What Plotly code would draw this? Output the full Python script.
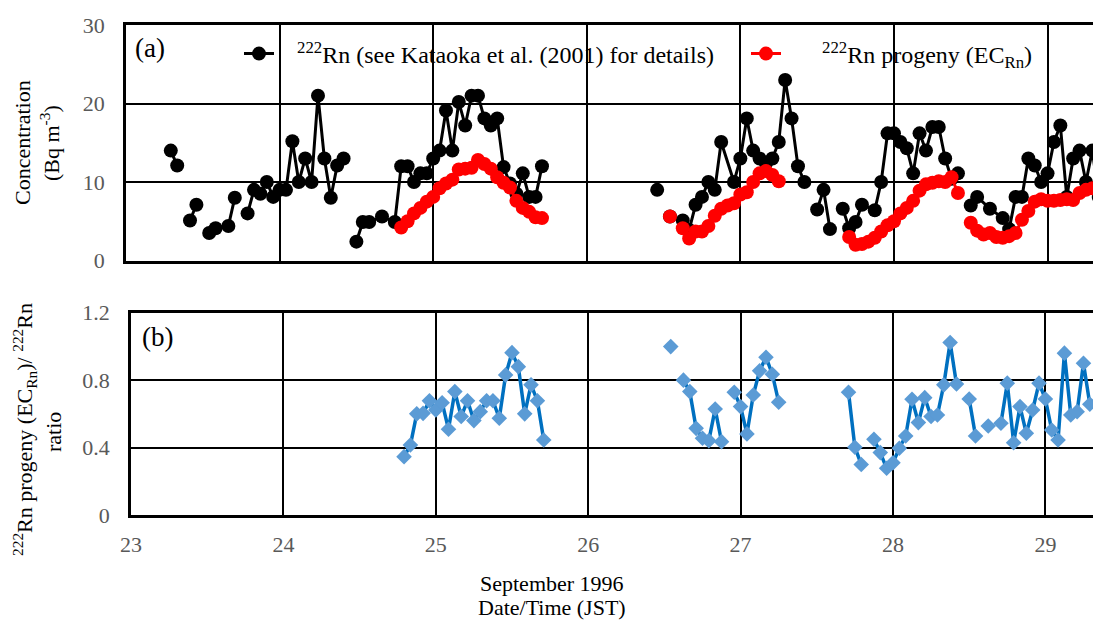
import plotly.graph_objects as go

# ---------------- data (hours after 23 Sep 1996 00:00 JST) ----------------
rn_hours = [7, 8, None,
            10, 11, None,
            13, 14, None,
            16, 17, None,
            19, 20, 21, 22, 23, 24, 25, 26, 27, 28, 29, 30, 31, 32, 33, 34, None,
            36, 37, 38, 40, 42, 43, 44, 45, 46, 47, 48, 49, 50, 51, 52, 53, 54,
            55, 56, 57, 58, 59, 60, 61, 62, 63, 64, 65, None,
            83, None,
            85, None,
            87, 88, 89, 90, 91, 92, 93, 95, 96, 97, 98, 99, 100, 101, 102, 103,
            104, 105, 106, None,
            108, 109, 110, None,
            112, 113, 114, 115, 117, 118, 119, 120, 121, 122, 123, 124, 125, 126,
            127, 128, 129, 130, None,
            132, 133, 135, 137, 138, 139, 140, 141, 142, 143, 144, 145, 146, 147,
            148, 149, 150, 151, 152]
rn_conc = [14.0, 12.1, None,
           5.1, 7.1, None,
           3.5, 4.1, None,
           4.4, 8.0, None,
           6.0, 9.0, 8.5, 10.0, 8.1, 9.0, 9.0, 15.2, 10.0, 13.0, 10.0, 21.0, 13.0, 8.0, 12.1, 13.0, None,
           2.4, 4.9, 4.9, 5.6, 4.9, 12.0, 12.0, 10.0, 11.1, 11.1, 13.0, 14.0, 19.1, 14.0, 20.2, 17.2, 21.0,
           21.0, 18.1, 17.2, 18.1, 11.9, 9.8, 8.5, 11.1, 8.1, 8.1, 12.0, None,
           9.0, None,
           5.6, None,
           5.1, 3.9, 7.1, 8.1, 10.0, 9.0, 15.1, 10.0, 13.0, 18.1, 14.0, 13.0, 12.4, 13.0, 15.1, 23.0,
           18.1, 12.0, 10.0, None,
           6.5, 9.0, 4.0, None,
           6.6, 4.1, 4.9, 7.1, 6.4, 10.0, 16.2, 16.2, 15.1, 14.3, 11.1, 16.2, 14.0, 17.0,
           17.0, 13.0, 10.4, 11.1, None,
           7.0, 8.1, 6.6, 5.4, 4.0, 8.1, 8.1, 13.0, 12.1, 10.0, 11.1, 15.1, 17.2, 8.1,
           13.0, 14.0, 10.0, 14.0, 8.1]

prog_hours = (list(range(43, 66)) + [None] + [85] + [None] + list(range(87, 103)) + [None]
              + list(range(113, 131)) + [None] + list(range(132, 153)))
prog_conc = [4.2, 5.0, 6.0, 6.7, 7.5, 8.1, 9.2, 9.8, 10.3, 11.6, 11.7, 11.8, 12.8, 12.3, 11.7,
             10.6, 9.9, 9.3, 7.6, 6.7, 6.2, 5.5, 5.4, None,
             5.6, None,
             4.1, 2.8, 3.7, 3.7, 4.4, 5.7, 6.6, 7.0, 7.3, 8.4, 8.7, 10.0, 11.1, 11.4, 10.9, 10.1, None,
             3.0, 2.0, 2.1, 2.4, 2.9, 3.7, 4.5, 5.0, 6.0, 6.7, 7.6, 8.9, 9.7, 9.9, 10.1, 10.0, 10.6, 8.6, None,
             4.8, 3.8, 3.3, 3.5, 3.0, 2.9, 3.1, 3.5, 5.2, 6.3, 7.5, 7.8, 7.6, 7.6, 7.7, 7.8, 7.7,
             8.6, 9.0, 9.2, 9.3]

ratio_hours = (list(range(43, 66)) + [None, 85, None] + list(range(87, 94)) + [None]
               + list(range(95, 103)) + [None] + [113, 114, 115] + [None] + list(range(117, 131))
               + [None, 132, 133, None, 135, None] + list(range(137, 152)))
ratio_vals = [0.346, 0.415, 0.60, 0.603, 0.677, 0.623, 0.666, 0.509, 0.732, 0.584, 0.678, 0.560,
              0.613, 0.678, 0.678, 0.574, 0.831, 0.963, 0.880, 0.60, 0.772, 0.678, 0.445,
              None, 0.999, None,
              0.80, 0.732, 0.514, 0.455, 0.441, 0.629, 0.435, None,
              0.728, 0.643, 0.481, 0.712, 0.855, 0.936, 0.835, 0.669, None,
              0.728, 0.402, 0.30, None,
              0.449, 0.37, 0.277, 0.31, 0.396, 0.469, 0.687, 0.548, 0.696, 0.584, 0.593, 0.772,
              1.023, 0.777,
              None, 0.688, 0.469, None, 0.528, None,
              0.544, 0.782, 0.429, 0.643, 0.485, 0.623, 0.782, 0.688, 0.504, 0.445, 0.96, 0.593,
              0.613, 0.90, 0.657]

day_ticks = [23, 24, 25, 26, 27, 28, 29]
conc_ticks = [0, 10, 20, 30]
ratio_ticks = [0, 0.4, 0.8, 1.2]
ratio_tick_text = ["0", "0.4", "0.8", "1.2"]

assert len(rn_hours) == len(rn_conc)
assert len(prog_hours) == len(prog_conc)
assert len(ratio_hours) == len(ratio_vals)


def to_day(hours):
    return [None if h is None else 23 + h / 24.0 for h in hours]


SERIF = "Liberation Serif, Times New Roman, serif"
GREY = "#595959"
NB = "\u00a0"

fig = go.Figure()
fig.add_trace(go.Scatter(
    x=to_day(rn_hours), y=rn_conc, mode="lines+markers", xaxis="x", yaxis="y",
    name=NB * 3 + "<sup>222</sup>Rn (see Kataoka et al. (2001) for details)",
    line=dict(color="black", width=3), marker=dict(color="black", size=14),
    legend="legend", connectgaps=False))
fig.add_trace(go.Scatter(
    x=to_day(prog_hours), y=prog_conc, mode="lines+markers", xaxis="x", yaxis="y",
    name=NB * 6 + "<sup>222</sup>Rn progeny (EC<sub>Rn</sub>)",
    line=dict(color="#FF0000", width=3), marker=dict(color="#FF0000", size=14),
    legend="legend2", connectgaps=False))
fig.add_trace(go.Scatter(
    x=to_day(ratio_hours), y=ratio_vals, mode="lines+markers", xaxis="x2", yaxis="y2",
    line=dict(color="#0070C0", width=3.5),
    marker=dict(color="#5B9BD5", symbol="diamond", size=12),
    showlegend=False, connectgaps=False))

# page body has an 8px margin: the figure is sized to end exactly at the window edge
OFF = 8
W, H = 1101 - OFF, 623 - OFF
L, R, T, B = 126 - OFF, 0, 25 - OFF, 108
PW, PH = W - L - R, H - T - B


def px(xp):  # window pixel -> paper x
    return (xp - OFF - L) / PW


def py(yp):  # window pixel -> paper y
    return (H - B - (yp - OFF)) / PH


axis_common = dict(showgrid=True, gridcolor="black", gridwidth=1.5, zeroline=False,
                   showline=True, linecolor="black", linewidth=2.5, ticks="",
                   tickfont=dict(family=SERIF, size=22, color=GREY))

fig.update_layout(
    width=W, height=H, margin=dict(l=L, r=R, t=T, b=B),
    paper_bgcolor="white", plot_bgcolor="white",
    font=dict(family=SERIF, color="black"),
    xaxis=dict(domain=[0, 1], range=[23, 29.348], tickvals=day_ticks, showticklabels=False,
               anchor="y", mirror=True, **axis_common),
    yaxis=dict(domain=[py(260.5), 1], range=[0, 30], tickvals=conc_ticks, anchor="x",
               ticklabelstandoff=14, **axis_common),
    xaxis2=dict(domain=[px(131), 1], range=[23, 29.365], tickvals=day_ticks, anchor="y2",
                mirror=True, ticklabelstandoff=8, **axis_common),
    yaxis2=dict(domain=[0, py(312.7)], range=[0, 1.2], tickvals=ratio_ticks,
                ticktext=ratio_tick_text, anchor="x2", ticklabelstandoff=14, **axis_common),
    legend=dict(x=px(239), y=py(54), xanchor="left", yanchor="middle",
                bgcolor="rgba(0,0,0,0)", font=dict(family=SERIF, size=24, color="black")),
    legend2=dict(x=px(746), y=py(54), xanchor="left", yanchor="middle",
                 bgcolor="rgba(0,0,0,0)", font=dict(family=SERIF, size=24, color="black")),
)

ann = [
    dict(text="(a)", x=px(133), y=py(48), xanchor="left", yanchor="middle", size=27, angle=0),
    dict(text="(b)", x=px(140), y=py(337), xanchor="left", yanchor="middle", size=27, angle=0),
    dict(text="Concentration", x=px(22), y=py(143), xanchor="center", yanchor="middle", size=22, angle=-90),
    dict(text="(Bq m<sup>-3</sup>)", x=px(50), y=py(143), xanchor="center", yanchor="middle", size=22, angle=-90),
    dict(text="<sup>222</sup>Rn progeny (EC<sub>Rn</sub>)/ <sup>222</sup>Rn", x=px(24), y=py(430),
         xanchor="center", yanchor="middle", size=22, angle=-90),
    dict(text="ratio", x=px(53), y=py(432), xanchor="center", yanchor="middle", size=22, angle=-90),
    dict(text="September 1996", x=px(552), y=py(583), xanchor="center", yanchor="middle", size=22, angle=0),
    dict(text="Date/Time (JST)", x=px(552), y=py(607), xanchor="center", yanchor="middle", size=22, angle=0),
]
for a in ann:
    fig.add_annotation(text=a["text"], xref="paper", yref="paper", x=a["x"], y=a["y"],
                       xanchor=a["xanchor"], yanchor=a["yanchor"], textangle=a["angle"],
                       showarrow=False, font=dict(family=SERIF, size=a["size"], color="black"))

fig.write_html("out.html")
